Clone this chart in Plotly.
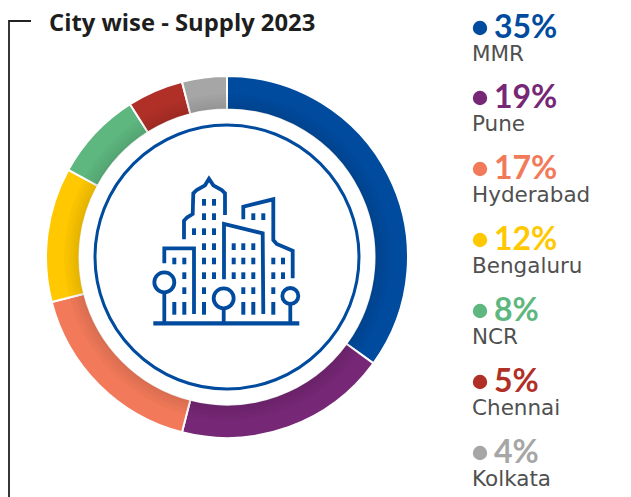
import plotly.graph_objects as go

cities = ["MMR", "Pune", "Hyderabad", "Bengaluru", "NCR", "Chennai", "Kolkata"]
shares = [35, 19, 17, 12, 8, 5, 4]
colors = ["#004B9E", "#762775", "#F27A5A", "#FFC800", "#5EB77F", "#B03028", "#A6A6A6"]
title = "City wise - Supply 2023"

W, H = 631, 497
CX, CY, R = 227, 257, 181
BLUE = "#004B9E"

fig = go.Figure()
fig.add_trace(go.Pie(
    labels=cities, values=shares, sort=False, direction="clockwise", rotation=0,
    hole=0.815, textinfo="none", showlegend=False, hoverinfo="label+percent",
    marker=dict(colors=colors, line=dict(color="white", width=2)),
    domain=dict(x=[(CX - R) / W, (CX + R) / W], y=[1 - (CY + R) / H, 1 - (CY - R) / H]),
))

shapes = []
def line(path, color=BLUE, width=3.8):
    shapes.append(dict(type="path", path=path, xref="x", yref="y", layer="above",
                       line=dict(color=color, width=width)))
def circle(cx, cy, r, color=BLUE, width=3.8, fill=None):
    shapes.append(dict(type="circle", xref="x", yref="y", layer="above",
                       x0=cx - r, x1=cx + r, y0=cy - r, y1=cy + r,
                       fillcolor=fill, line=dict(color=color, width=width)))

# inner shading of the ring
for i, a in enumerate([0.10, 0.08, 0.06, 0.04, 0.025]):
    circle(CX, CY, 149.5 + i * 3, color=f"rgba(0,0,0,{a})", width=3)

# thin circle around the icon
circle(CX, CY, 132, width=3)

# corner bracket
line("M9,497 V21 H31", color="#222222", width=1.8)

# building icon, sketched in a local grid
def zx(v): return 130 + v / 3
def zy(v): return 160 + v / 3
def P(points):
    return "M" + " L".join(f"{zx(x):.1f},{zy(y):.1f}" for x, y in points)
line(P([(70, 490), (508, 490)]), width=4.2)
line(P([(103, 310), (103, 265), (192, 265), (192, 462)]))
line(P([(162, 238), (162, 182), (172, 172), (188, 162), (190, 100), (200, 90), (225, 76),
        (237, 56), (250, 76), (275, 90), (285, 100), (285, 165)]))
line(P([(282, 358), (282, 192), (398, 220), (400, 462)]))
line(P([(340, 178), (340, 140), (430, 118), (430, 240), (440, 252), (488, 272), (488, 355)]))
for cx, cy, r in [(103, 367, 30), (281, 415, 30), (481, 408, 24)]:
    circle(zx(cx), zy(cy), r / 3)
    line(P([(cx, cy + r), (cx, 490)]))
windows = {
    127: [222, 252], 170: [222, 252, 370, 400], 215: [192, 222, 252],
    260: [222, 252, 311, 340, 370],
    303: [133, 163, 222, 252, 311, 340, 370, 430, 459],
    347: [163, 222, 252, 311, 340, 370, 430, 459],
    392: [163, 222, 340, 370, 430],
}
for y, xs in windows.items():
    for x in xs:
        line(P([(x, y - 10), (x, y + 10)]), width=4)
for x in [133, 163, 222, 340, 370, 430]:
    line(P([(x, 426), (x, 464)]), width=4)

# legend dots + text
annotations = [dict(x=47, y=22, xref="x", yref="y", text=f"<b>{title}</b>", showarrow=False,
                    xanchor="left", yanchor="middle", font=dict(family="Open Sans", size=23.8, color="#1E1E1E"))]
dot_y = [28, 98, 169, 240, 311, 382, 453]
for i, (c, s, col) in enumerate(zip(cities, shares, colors)):
    y = dot_y[i]
    circle(480, y, 7.2, color=col, width=0, fill=col)
    annotations.append(dict(x=492, y=y - 3, xref="x", yref="y", text=f"<b>{s}%</b>", showarrow=False,
                            xanchor="left", yanchor="middle", font=dict(family="Lato", size=32, color=col)))
    annotations.append(dict(x=470, y=y + 25, xref="x", yref="y", text=c, showarrow=False,
                            xanchor="left", yanchor="middle", font=dict(family="DejaVu Sans", size=21.5, color="#505050")))

fig.update_layout(
    width=W, height=H, margin=dict(l=0, r=0, t=0, b=0), autosize=False,
    paper_bgcolor="white", plot_bgcolor="rgba(0,0,0,0)", showlegend=False,
    xaxis=dict(range=[0, W], visible=False, fixedrange=True),
    yaxis=dict(range=[H, 0], visible=False, fixedrange=True),
    shapes=shapes, annotations=annotations,
)
fig.write_html("out.html", config=dict(displayModeBar=False),
               post_script="document.documentElement.style.margin='0';document.body.style.margin='0';document.body.style.overflow='hidden';")
